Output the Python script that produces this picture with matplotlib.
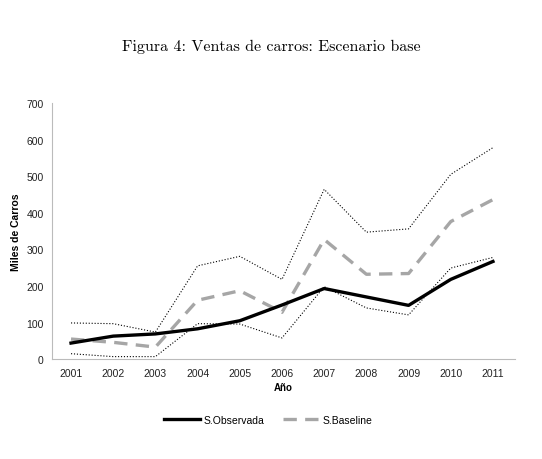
import numpy as np
import matplotlib.pyplot as plt

years = np.arange(2001, 2012)
observada = [44, 63, 69, 83, 105, 148, 193, 170, 147, 218, 267]
baseline = [55, 46, 33, 161, 187, 128, 327, 232, 234, 376, 436]
superior = [99, 97, 74, 255, 281, 218, 464, 347, 356, 505, 578]
inferior = [15, 7, 7, 97, 96, 58, 198, 140, 121, 249, 278]

plt.rcParams['font.family'] = ['Liberation Sans', 'DejaVu Sans']

fig = plt.figure(figsize=(5.42, 4.6), dpi=100)
ax = fig.add_axes([0.096, 0.217, 0.854, 0.557])

ax.plot(years, superior, color='black', linestyle=':', linewidth=0.8)
ax.plot(years, inferior, color='black', linestyle=':', linewidth=0.8)
ax.plot(years, baseline, color='#a6a6a6', linestyle=(0, (4, 2.5)), linewidth=2.4,
        label='S.Baseline')
ax.plot(years, observada, color='black', linewidth=2.4, label='S.Observada')

ax.set_xlim(2000.55, 2011.52)
ax.set_ylim(0, 700)
ax.set_xticks(years)
ax.set_yticks(np.arange(0, 701, 100))
ax.tick_params(length=0, labelsize=7.5, colors='#222222', pad=6)
for side in ['top', 'right']:
    ax.spines[side].set_visible(False)
for side in ['left', 'bottom']:
    ax.spines[side].set_color('#bbbbbb')
    ax.spines[side].set_linewidth(0.8)

ax.set_xlabel('Año', fontsize=7, fontweight='bold', labelpad=3)
ax.set_ylabel('Miles de Carros', fontsize=7.5, fontweight='bold', labelpad=4)

handles, labels = ax.get_legend_handles_labels()
fig.legend(handles[::-1], labels[::-1], loc='center', bbox_to_anchor=(0.495, 0.085),
           ncol=2, frameon=False, fontsize=7.5, handlelength=3.5, handletextpad=0.3,
           columnspacing=1.8)

fig.text(0.5, 0.898, 'Figura 4: Ventas de carros: Escenario base',
         ha='center', va='center', fontsize=11.5, fontfamily='cmr10')

plt.savefig('out.png', dpi=100)
